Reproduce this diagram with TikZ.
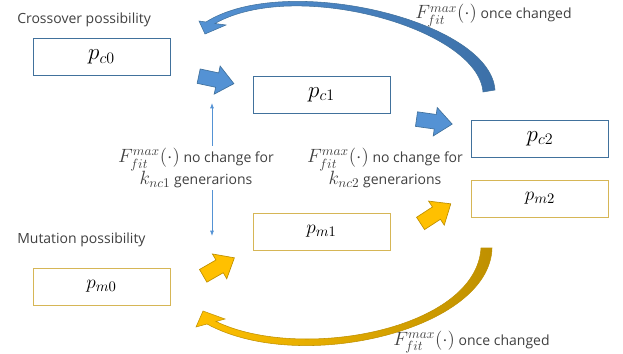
\documentclass[tikz,border=0pt]{standalone}
\usepackage[no-math]{fontspec}
\setmainfont{Open Sans}
\usepackage{amsmath}
\usepackage{tikz}
\usetikzlibrary{arrows.meta,shapes.arrows}
\DeclareMathSizes{10.5}{13.5}{10}{7.5}

\definecolor{cblue}{RGB}{84,146,212}
\definecolor{cbluedark}{RGB}{60,112,168}
\definecolor{cblueline}{RGB}{65,113,156}
\definecolor{myellow}{RGB}{255,192,0}
\definecolor{myellowline}{RGB}{214,182,86}
\definecolor{mgold}{RGB}{191,144,0}
\definecolor{txtgray}{RGB}{64,64,64}

\begin{document}
\begin{tikzpicture}[
    x=0.75pt, y=-0.75pt,
    >=Latex,
    pbox/.style={draw, line width=0.75pt, minimum width=102.75pt, minimum height=27.75pt, inner sep=0pt},
    cbox/.style={pbox, draw=cblueline, font=\fontsize{17}{20}\selectfont},
    mbox/.style={pbox, draw=myellowline, font=\fontsize{15.5}{18}\selectfont},
    title/.style={font=\fontsize{10.5}{13}\selectfont, text=txtgray, anchor=west, inner sep=0pt},
    note/.style={font=\fontsize{10.5}{16}\selectfont, text=txtgray, align=center, inner sep=2pt},
    fatarrow/.style={single arrow, minimum height=27pt, inner sep=5.25pt, single arrow head extend=5.25pt, single arrow tip angle=80, line width=0.5pt},
    barrow/.style={fatarrow, fill=cblue, draw=cblueline},
    yarrow/.style={fatarrow, fill=myellow, draw=mgold},
    thinarr/.style={->, cblue, line width=0.6pt, >={Latex[length=4pt,width=3pt]}}
  ]
    \useasboundingbox (0,0) rectangle (623,353);

    % Crossover row
    \node[title] (tc) at (17,20) {Crossover possibility};
    \node[cbox] (pc0) at (101.5,57) {$p_{c0}$};
    \node[cbox] (pc1) at (321.5,94.5) {$p_{c1}$};
    \node[cbox] (pc2) at (540,138.5) {$p_{c2}$};

    % Mutation row
    \node[title] (tm) at (17,240) {Mutation possibility};
    \node[mbox] (pm0) at (101.5,286.5) {$p_{m0}$};
    \node[mbox] (pm1) at (321.5,231.5) {$p_{m1}$};
    \node[mbox] (pm2) at (540,198.5) {$p_{m2}$};

    % Step arrows
    \node[barrow, rotate=-12] (ca1) at (212,79) {};
    \node[barrow, rotate=-8] (ca2) at (430,121) {};
    \node[yarrow, rotate=30] (ma1) at (215,269) {};
    \node[yarrow, rotate=33] (ma2) at (432,216) {};

    % Conditions
    \node[note] (nc1) at (196,168) {$F^{max}_{fit}(\cdot)$ no change for\\$k_{nc1}$ generarions};
    \node[note] (nc2) at (385,168) {$F^{max}_{fit}(\cdot)$ no change for\\$k_{nc2}$ generarions};
    \node[note, anchor=base west, inner sep=0pt] (oc) at (415,19) {$F^{max}_{fit}(\cdot)$ once changed};
    \node[note, anchor=base west, inner sep=0pt] (om) at (393,345) {$F^{max}_{fit}(\cdot)$ once changed};

    \coordinate (up1) at (212,103);
    \coordinate (dn1) at (212,236);
    \draw[thinarr] (nc1.north -| up1) -- (up1);
    \draw[thinarr] (nc1.south -| dn1) -- (dn1);

    % Reset arrows
    \shade[left color=cblue, right color=cbluedark, draw=cblueline, line width=0.4pt]
      (495,90) .. controls (490,20) and (285,-28) .. (206,22) -- (199,21) -- (205,34) -- (226,25) -- (215,23.5)
      .. controls (295,-22) and (478,28) .. (483,92) -- cycle;
    \shade[left color=myellow, right color=mgold, draw=mgold, line width=0.4pt]
      (492,248) .. controls (490,330) and (300,375) .. (207,324) -- (196,327) -- (203,311) -- (225,319) -- (216,321.5)
      .. controls (300,362) and (476,330) .. (481,248) -- cycle;
\end{tikzpicture}
\end{document}
